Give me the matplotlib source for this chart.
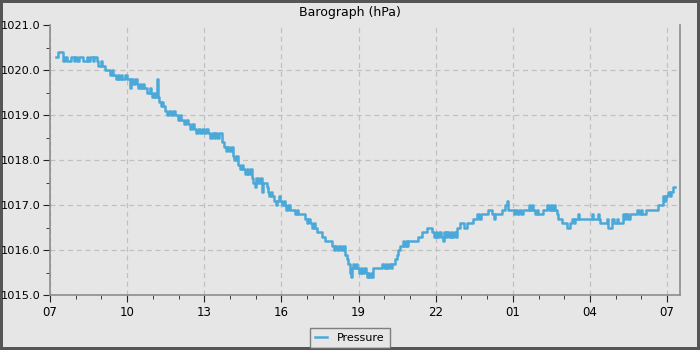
import numpy as np
import pandas as pd
import matplotlib
matplotlib.use('Agg')
import matplotlib.pyplot as plt
import matplotlib.dates as mdates
from matplotlib.ticker import MultipleLocator, FormatStrFormatter

# readings: minutes after 07:00 and pressure in hPa (step data, 0.1 hPa resolution)
minutes = [14, 19, 30, 31, 35, 40, 49, 55, 58, 63, 68, 77, 86, 89, 93, 100, 103, 110, 112, 119,
           122, 128, 140, 144, 147, 154, 158, 161, 165, 168, 175, 180, 187, 190, 194, 198, 202, 205, 209, 212,
           216, 219, 226, 233, 236, 238, 242, 245, 250, 252, 255, 259, 262, 264, 268, 273, 277, 283, 287, 292,
           298, 303, 306, 313, 317, 322, 327, 331, 336, 340, 345, 350, 355, 360, 364, 368, 373, 378, 382, 386,
           390, 395, 401, 406, 410, 414, 418, 422, 427, 430, 434, 439, 443, 447, 451, 455, 459, 463, 467, 471,
           474, 478, 480, 485, 490, 495, 497, 506, 509, 512, 515, 518, 522, 527, 530, 534, 537, 541, 545, 549,
           551, 555, 559, 565, 572, 576, 579, 584, 595, 599, 603, 607, 611, 615, 619, 623, 634, 642, 658, 662,
           666, 670, 674, 678, 684, 689, 693, 696, 700, 703, 705, 707, 710, 713, 717, 721, 725, 729, 733, 737,
           740, 743, 745, 748, 751, 754, 775, 779, 783, 787, 791, 795, 799, 805, 810, 812, 817, 824, 827, 830,
           833, 836, 840, 859, 868, 880, 892, 896, 900, 904, 908, 912, 917, 919, 923, 927, 931, 935, 939, 943,
           947, 950, 957, 966, 973, 987, 997, 1001, 1005, 1011, 1022, 1032, 1036, 1039, 1055, 1062, 1066, 1068,
           1069, 1078, 1082, 1086, 1090, 1094, 1098, 1104, 1113, 1117, 1121, 1125, 1127, 1132, 1136, 1139, 1151, 1160,
           1164, 1168, 1172, 1176, 1179, 1183, 1186, 1195, 1207, 1214, 1218, 1222, 1225, 1231, 1234, 1264, 1267, 1278,
           1281, 1284, 1299, 1301, 1302, 1312, 1315, 1319, 1322, 1325, 1337, 1341, 1345, 1349, 1354, 1370, 1374, 1378,
           1382, 1391, 1419, 1431, 1434, 1438, 1442, 1447, 1450, 1454, 1459]
pressure = [1020.3, 1020.4, 1020.3, 1020.2, 1020.3, 1020.2, 1020.3, 1020.2, 1020.3, 1020.2,
            1020.3, 1020.2, 1020.3, 1020.2, 1020.3, 1020.2, 1020.3, 1020.2, 1020.1, 1020.2,
            1020.1, 1020.0, 1019.9, 1020.0, 1019.9, 1019.8, 1019.9, 1019.8, 1019.9, 1019.8,
            1019.9, 1019.8, 1019.6, 1019.8, 1019.7, 1019.8, 1019.7, 1019.6, 1019.7, 1019.6,
            1019.7, 1019.6, 1019.5, 1019.6, 1019.5, 1019.4, 1019.5, 1019.4, 1019.8, 1019.4,
            1019.3, 1019.2, 1019.3, 1019.2, 1019.1, 1019.0, 1019.1, 1019.0, 1019.1, 1019.0,
            1018.9, 1019.0, 1018.9, 1018.8, 1018.9, 1018.8, 1018.7, 1018.8, 1018.7, 1018.6,
            1018.7, 1018.6, 1018.7, 1018.6, 1018.7, 1018.6, 1018.5, 1018.6, 1018.5, 1018.6,
            1018.5, 1018.6, 1018.4, 1018.3, 1018.2, 1018.3, 1018.2, 1018.3, 1018.1, 1018.0,
            1018.1, 1017.9, 1017.8, 1017.9, 1017.8, 1017.7, 1017.8, 1017.7, 1017.8, 1017.6,
            1017.5, 1017.4, 1017.6, 1017.5, 1017.6, 1017.3, 1017.5, 1017.4, 1017.3, 1017.2,
            1017.3, 1017.2, 1017.1, 1017.0, 1017.1, 1017.2, 1017.1, 1017.0, 1017.1, 1017.0,
            1016.9, 1017.0, 1016.9, 1016.9, 1016.8, 1016.9, 1016.8, 1016.8, 1016.7, 1016.6,
            1016.7, 1016.6, 1016.5, 1016.6, 1016.5, 1016.4, 1016.3, 1016.2, 1016.1, 1016.0,
            1016.1, 1016.0, 1016.1, 1016.0, 1016.1, 1015.9, 1015.8, 1015.7, 1015.5, 1015.4,
            1015.6, 1015.7, 1015.6, 1015.7, 1015.6, 1015.5, 1015.6, 1015.5, 1015.6, 1015.5,
            1015.4, 1015.5, 1015.4, 1015.5, 1015.4, 1015.6, 1015.7, 1015.6, 1015.7, 1015.6,
            1015.7, 1015.6, 1015.7, 1015.8, 1015.9, 1016.0, 1016.1, 1016.2, 1016.1, 1016.2,
            1016.1, 1016.2, 1016.2, 1016.3, 1016.4, 1016.5, 1016.4, 1016.3, 1016.4, 1016.3,
            1016.4, 1016.3, 1016.2, 1016.4, 1016.3, 1016.4, 1016.3, 1016.4, 1016.3, 1016.4,
            1016.3, 1016.5, 1016.6, 1016.5, 1016.6, 1016.7, 1016.8, 1016.7, 1016.8, 1016.8,
            1016.9, 1016.8, 1016.7, 1016.8, 1016.9, 1017.0, 1017.1, 1017.0, 1016.9, 1016.9,
            1016.8, 1016.9, 1016.8, 1016.9, 1016.8, 1016.9, 1016.9, 1017.0, 1016.9, 1017.0,
            1016.9, 1016.8, 1016.9, 1016.8, 1016.9, 1017.0, 1016.9, 1017.0, 1016.9, 1017.0,
            1016.9, 1016.8, 1016.7, 1016.6, 1016.5, 1016.6, 1016.7, 1016.6, 1016.7, 1016.8,
            1016.7, 1016.8, 1016.7, 1016.8, 1016.7, 1016.6, 1016.7, 1016.6, 1016.5, 1016.7,
            1016.6, 1016.6, 1016.7, 1016.6, 1016.8, 1016.7, 1016.8, 1016.7, 1016.8, 1016.9,
            1016.8, 1016.9, 1016.8, 1016.9, 1017.0, 1017.2, 1017.1, 1017.2, 1017.3, 1017.2,
            1017.3, 1017.4, 1017.4]

start = pd.Timestamp('2024-01-01 07:00')
times = start + pd.to_timedelta(minutes, unit='m')

bg = '#e6e6e6'
grid_style = dict(linestyle=(0, (4, 3)), color='#c0c0c0', linewidth=0.9, zorder=0.5)

fig = plt.figure(figsize=(7, 3.5), dpi=100, facecolor=bg, edgecolor='#555555', linewidth=3)
ax = fig.add_axes([50 / 700, 55 / 350, 630 / 700, 270 / 350])
ax.set_facecolor(bg)

ax.step(times, pressure, where='post', color='#4ba9da', linewidth=1.8, label='Pressure', zorder=2)

ymin, ymax = 1015.0, 1021.0
ax.set_xlim(start, start + pd.Timedelta(minutes=1470))
ax.set_ylim(ymin, ymax)

ax.xaxis.set_major_locator(mdates.HourLocator(byhour=[1, 4, 7, 10, 13, 16, 19, 22]))
ax.xaxis.set_major_formatter(mdates.DateFormatter('%H'))
ax.xaxis.set_minor_locator(mdates.HourLocator())
ax.yaxis.set_major_locator(MultipleLocator(1.0))
ax.yaxis.set_minor_locator(MultipleLocator(0.5))
ax.yaxis.set_major_formatter(FormatStrFormatter('%.1f'))

ax.tick_params(axis='x', which='major', length=5, color='#222222', labelsize=8.5, pad=3)
ax.tick_params(axis='y', which='major', length=5, color='#222222', labelsize=8.2, pad=2)
ax.tick_params(axis='both', which='minor', length=3, color='#222222')

# vertical grid from the axis, horizontal grid drawn by hand so the top edge stays clear
ax.xaxis.grid(True, which='major', **grid_style)
ax.yaxis.grid(False)
for level in np.arange(ymin + 1, ymax, 1.0):
    ax.axhline(level, **grid_style)

for side in ['left', 'bottom', 'right']:
    ax.spines[side].set_color('#8c8c8c')
    ax.spines[side].set_linewidth(1.2)
ax.spines['top'].set_visible(False)

fig.text(0.5, 0.965, 'Barograph (hPa)', ha='center', va='center', fontsize=9)

leg = fig.legend(loc='center', bbox_to_anchor=(350 / 700, 12 / 350), fontsize=8, frameon=True,
                 fancybox=False, handlelength=1.1, borderpad=0.45, handletextpad=0.9)
leg.get_frame().set_edgecolor('#666666')
leg.get_frame().set_facecolor(bg)
leg.get_frame().set_linewidth(1.0)

fig.savefig('out.png', dpi=100, facecolor=bg, edgecolor='#555555')
